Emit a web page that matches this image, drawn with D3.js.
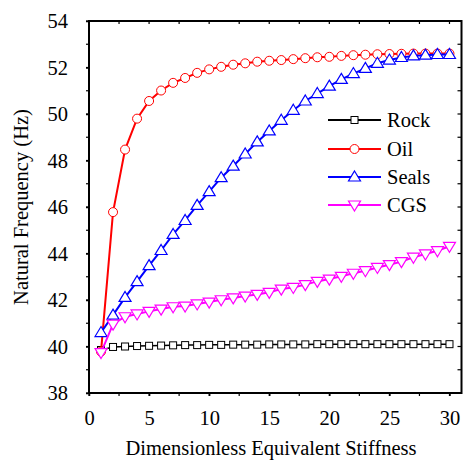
<!DOCTYPE html>
<html>
<head>
<meta charset="utf-8">
<script src="https://cdn.jsdelivr.net/npm/d3@7"></script>
</head>
<body style="margin:0">
<svg id="s" width="464" height="461"></svg>
<script>
const stiffness = [1,2,3,4,5,6,7,8,9,10,11,12,13,14,15,16,17,18,19,20,21,22,23,24,25,26,27,28,29,30];
const rock  = [39.85,39.98,40.0,40.02,40.03,40.04,40.05,40.06,40.06,40.07,40.07,40.08,40.08,40.08,40.09,40.09,40.09,40.09,40.1,40.1,40.1,40.1,40.1,40.1,40.1,40.1,40.1,40.1,40.1,40.1];
const oil   = [39.78,45.78,48.47,49.8,50.56,51.01,51.34,51.55,51.77,51.92,52.03,52.12,52.18,52.25,52.29,52.32,52.36,52.4,52.44,52.46,52.5,52.53,52.55,52.57,52.58,52.59,52.6,52.6,52.6,52.6];
const seals = [40.6,41.35,42.11,42.79,43.48,44.13,44.82,45.42,46.07,46.66,47.26,47.76,48.28,48.8,49.27,49.73,50.16,50.56,50.88,51.2,51.49,51.74,51.96,52.18,52.32,52.43,52.5,52.53,52.56,52.56];
const cgs   = [39.74,40.96,41.28,41.4,41.51,41.61,41.71,41.74,41.83,41.91,42.01,42.09,42.17,42.24,42.33,42.47,42.54,42.66,42.8,42.9,43.02,43.15,43.26,43.4,43.52,43.65,43.84,43.98,44.12,44.31];
const seriesNames = ["Rock","Oil","Seals","CGS"];
const xTicks = [0,5,10,15,20,25,30];
const yTicks = [38,40,42,44,46,48,50,52,54];
const xLabel = "Dimensionless Equivalent Stiffness";
const yLabel = "Natural Frequency (Hz)";

const FS = 20.5;
const FF = "Liberation Serif";
const colors = {Rock:"#000000", Oil:"#ff0000", Seals:"#0000ff", CGS:"#ff00ff"};
const markers = {Rock:"square", Oil:"circle", Seals:"up", CGS:"down"};
const values = {Rock:rock, Oil:oil, Seals:seals, CGS:cgs};

const L=89, R=461.5, T=21, B=393;
const x = d3.scaleLinear().domain([0,31]).range([L,R]);
const y = d3.scaleLinear().domain([38,54]).range([B,T]);
const svg = d3.select("#s");

const xMinor = d3.range(0, 31.01, 2.5);
const yMinor = d3.range(38, 54.01, 1);

const gx = svg.append("g").attr("transform",`translate(0,${B})`)
  .call(d3.axisBottom(x).tickValues(xTicks).tickFormat(d3.format("d")).tickSize(3).tickPadding(14));
gx.attr("font-family",FF).attr("font-size",FS);
gx.select(".domain").remove();
gx.selectAll(".tick line").attr("stroke","#000").attr("stroke-width",1.5);
gx.selectAll("text").attr("fill","#000").attr("font-family",FF).attr("font-size",FS);

const gy = svg.append("g").attr("transform",`translate(${L},0)`)
  .call(d3.axisLeft(y).tickValues(yTicks).tickFormat(d3.format("d")).tickSize(3).tickPadding(18));
gy.attr("font-family",FF).attr("font-size",FS);
gy.select(".domain").remove();
gy.selectAll(".tick line").attr("stroke","#000").attr("stroke-width",1.5);
gy.selectAll("text").attr("fill","#000").attr("dy","0.34em").attr("font-family",FF).attr("font-size",FS);

const tk = svg.append("g").attr("stroke","#000").attr("stroke-width",1.2);
xMinor.forEach(v=>{
  tk.append("line").attr("x1",x(v)).attr("x2",x(v)).attr("y1",B).attr("y2",B+3);
  tk.append("line").attr("x1",x(v)).attr("x2",x(v)).attr("y1",T).attr("y2",T+3);
});
yMinor.forEach(v=>{
  tk.append("line").attr("x1",L-3).attr("x2",L).attr("y1",y(v)).attr("y2",y(v));
  tk.append("line").attr("x1",R-4).attr("x2",R).attr("y1",y(v)).attr("y2",y(v));
});

svg.append("rect").attr("x",L).attr("y",T).attr("width",R-L).attr("height",B-T)
  .attr("fill","none").attr("stroke","#000").attr("stroke-width",2);

function drawMarker(g, type, cx, cy, color){
  if(type==="square"){
    g.append("rect").attr("x",cx-3.5).attr("y",cy-3.5).attr("width",7).attr("height",7)
      .attr("fill","#fff").attr("stroke",color).attr("stroke-width",1);
  } else if(type==="circle"){
    g.append("circle").attr("cx",cx).attr("cy",cy).attr("r",4.5)
      .attr("fill","#fff").attr("stroke",color).attr("stroke-width",1);
  } else if(type==="up"){
    g.append("path").attr("d",`M${cx},${cy-6}L${cx+6},${cy+4}L${cx-6},${cy+4}Z`)
      .attr("fill","#fff").attr("stroke",color).attr("stroke-width",1.2);
  } else {
    g.append("path").attr("d",`M${cx},${cy+6}L${cx+6},${cy-4}L${cx-6},${cy-4}Z`)
      .attr("fill","#fff").attr("stroke",color).attr("stroke-width",1.2);
  }
}

const line = d3.line().x(d=>x(d[0])).y(d=>y(d[1]));
seriesNames.forEach(name=>{
  const pts = stiffness.map((s,i)=>[s, values[name][i]]);
  const g = svg.append("g");
  g.append("path").attr("d",line(pts)).attr("fill","none")
    .attr("stroke",colors[name]).attr("stroke-width", name==="Rock"?1.5:2);
  pts.forEach(p=>drawMarker(g, markers[name], x(p[0]), y(p[1]), colors[name]));
});

const legY = [120,149,177,205];
seriesNames.forEach((name,i)=>{
  const yy = legY[i];
  svg.append("line").attr("x1",328).attr("x2",381).attr("y1",yy).attr("y2",yy)
    .attr("stroke",colors[name]).attr("stroke-width",2);
  drawMarker(svg, markers[name], 354.5, yy, colors[name]);
  svg.append("text").attr("x",387).attr("y",yy+7).attr("font-size",FS).attr("font-family",FF).text(name);
});

svg.append("text").attr("x",271).attr("y",455).attr("text-anchor","middle")
  .attr("font-size",FS).attr("font-family",FF).text(xLabel);
svg.append("text").attr("transform",`translate(28,207) rotate(-90)`)
  .attr("text-anchor","middle").attr("font-size",FS).attr("font-family",FF).text(yLabel);
</script>
</body>
</html>
